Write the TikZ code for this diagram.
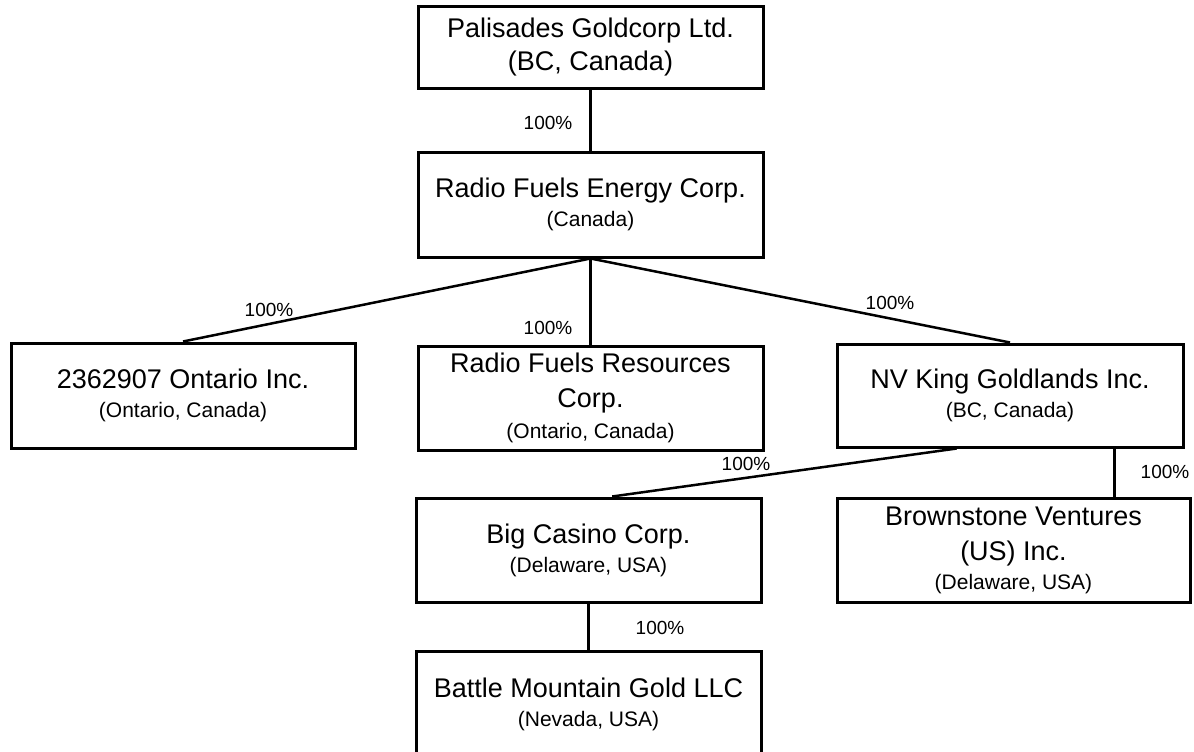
\documentclass[tikz,border=0pt]{standalone}
\usepackage{fontspec}
\setmainfont{Liberation Sans}
\usetikzlibrary{calc}
\newcommand{\mainf}{\fontsize{27}{35}\selectfont}
\newcommand{\smallf}{\fontsize{21}{30}\selectfont}
\tikzset{
  entity/.style={draw=black, line width=3pt, fill=white, align=center, inner sep=0pt, font=\mainf},
  link/.style={line width=2.5pt, draw=black},
  pct/.style={font=\fontsize{19}{22}\selectfont, inner sep=0pt}
}
\begin{document}
\begin{tikzpicture}[x=1pt, y=-1pt]
\useasboundingbox (0,0) rectangle (1194,752);
\clip (0,0) rectangle (1194,752);
\fill[white] (0,0) rectangle (1194,752);

\node[entity, minimum width=345pt, minimum height=81pt] (pal) at (590.5,47.5)
  {Palisades Goldcorp Ltd.\\[-2pt] (BC, Canada)};
\node[entity, minimum width=345pt, minimum height=105pt] (rfe) at (590.5,204.5)
  {Radio Fuels Energy Corp.\\[-6pt] {\smallf (Canada)}};
\node[entity, minimum width=344pt, minimum height=105pt] (ont) at (183,395.5)
  {2362907 Ontario Inc.\\[-6pt] {\smallf (Ontario, Canada)}};
\node[entity, minimum width=345pt, minimum height=104pt] (res) at (590.5,398)
  {Radio Fuels Resources\\ Corp.\\[-4pt] {\smallf (Ontario, Canada)}};
\node[entity, minimum width=346pt, minimum height=103pt] (nvk) at (1010,395.5)
  {NV King Goldlands Inc.\\[-6pt] {\smallf (BC, Canada)}};
\node[entity, minimum width=345pt, minimum height=104pt] (big) at (588.5,550)
  {Big Casino Corp.\\[-6pt] {\smallf (Delaware, USA)}};
\node[entity, minimum width=353pt, minimum height=104pt] (bro) at (1013.5,550)
  {Brownstone Ventures\\ (US) Inc.\\[-6pt] {\smallf (Delaware, USA)}};
\node[entity, minimum width=345pt, minimum height=106pt] (bmg) at (588.5,704)
  {Battle Mountain Gold LLC\\[-6pt] {\smallf (Nevada, USA)}};

\draw[link] (pal.south) -- (rfe.north);
\draw[link] (rfe.south) -- (ont.north);
\draw[link] (rfe.south) -- (res.north);
\draw[link] (rfe.south) -- (nvk.north);
\coordinate (nvkA) at ($(nvk.south west)!0.347!(nvk.south east)$);
\coordinate (bigA) at ($(big.north west)!0.568!(big.north east)$);
\draw[link] (nvkA) -- (bigA);
\coordinate (nvkB) at ($(nvk.south west)!0.80!(nvk.south east)$);
\draw[link] (nvkB) -- (nvkB |- bro.north);
\draw[link] (big.south) -- (bmg.north);

\node[pct] (l1) at (548,123) {100\%};
\node[pct] (l2) at (269,310) {100\%};
\node[pct] (l3) at (548,328) {100\%};
\node[pct] (l4) at (890,303) {100\%};
\node[pct] (l5) at (746,464) {100\%};
\node[pct] (l6) at (1165,472) {100\%};
\node[pct] (l7) at (660,628) {100\%};
\end{tikzpicture}
\end{document}
